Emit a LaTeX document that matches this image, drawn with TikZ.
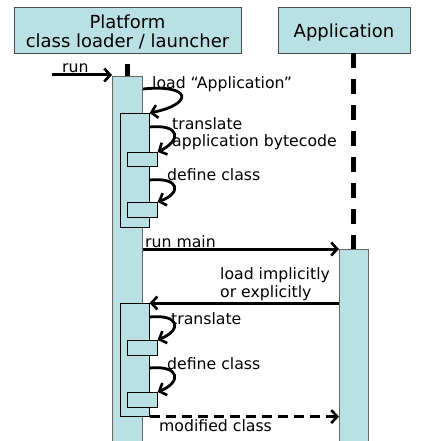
\documentclass[tikz,border=0pt]{standalone}
\usepackage{fontspec}
\setmainfont{DejaVu Sans}
\usetikzlibrary{arrows.meta}
\definecolor{act}{HTML}{B9E0E3}
\tikzset{
  head/.style={draw=black!70, fill=act, line width=0.8pt, inner sep=0},
  actbar/.style={draw=black!60, fill=act, line width=1pt},
  subbar/.style={draw=black, fill=act, line width=0.6pt},
  msg/.style={line width=3pt, -{Straight Barb[length=6pt,width=13pt,line width=2.6pt]}},
  selfmsg/.style={line width=2.8pt, -{Straight Barb[length=6pt,width=13pt,line width=2.6pt]}},
  lbl/.style={font=\fontsize{15.7}{18}\selectfont, anchor=base west, inner sep=0},
  ttl/.style={font=\fontsize{18}{21}\selectfont, anchor=base, inner sep=0},
  life/.style={line width=5pt, dash pattern=on 15pt off 11pt}
}
\begin{document}
\begin{tikzpicture}[x=1pt,y=-1pt]
\useasboundingbox (0,0) rectangle (423,441);
% headers
\path[head] (14,7) rectangle (241,53);
\path[head] (278,7) rectangle (410,53);
\node[ttl] (t1) at (127.5,29) {Platform};
\node[ttl] (t2) at (127.5,48) {class loader / launcher};
\node[ttl] (t3) at (344,38) {Application};
% lifelines
\coordinate (pl0) at (127,53);
\coordinate (pl1) at (127,78);
\draw[life, dash phase=15pt] (pl0) -- (pl1);
\coordinate (al0) at (353,53);
\coordinate (al1) at (353,249);
\draw[life] (al0) -- (al1);
% activation bars
\node[actbar, minimum width=30pt, minimum height=370pt, inner sep=0, anchor=north west] (pa) at (112,76) {};
\node[actbar, minimum width=29pt, minimum height=200pt, inner sep=0, anchor=north west] (aa) at (339,249) {};
\node[subbar, minimum width=29pt, minimum height=114pt, inner sep=0, anchor=north west] (n1) at (120,113) {};
\node[subbar, minimum width=30pt, minimum height=14pt, inner sep=0, anchor=north west] (s1) at (127,152) {};
\node[subbar, minimum width=30pt, minimum height=15pt, inner sep=0, anchor=north west] (s2) at (127,202) {};
\node[subbar, minimum width=29pt, minimum height=113pt, inner sep=0, anchor=north west] (n2) at (120,303) {};
\node[subbar, minimum width=30pt, minimum height=15pt, inner sep=0, anchor=north west] (s3) at (127,340) {};
\node[subbar, minimum width=30pt, minimum height=15pt, inner sep=0, anchor=north west] (s4) at (127,392) {};
% run
\coordinate (runstart) at (52,75);
\draw[msg] (runstart) -- (pa.north west |- runstart) ;
\node[lbl] (lrun) at (62,73) {run};
% self calls
\draw[selfmsg] (pa.east |- 0,89) .. controls (192,84) and (194,104) .. (n1.north east);
\node[lbl] (l1) at (152,89) {load “Application”};
\draw[selfmsg] (n1.east |- 0,127) .. controls (180,124) and (182,140) .. (s1.north east);
\node[lbl] (l2) at (172,129) {translate};
\node[lbl] (l3) at (172,146) {application bytecode};
\draw[selfmsg] (n1.east |- 0,180) .. controls (180,177) and (182,193) .. (s2.north east);
\node[lbl] (l4) at (167,180) {define class};
\draw[selfmsg] (n2.east |- 0,317) .. controls (180,314) and (182,330) .. (s3.north east);
\node[lbl] (l5) at (171,324) {translate};
\draw[selfmsg] (n2.east |- 0,368) .. controls (180,365) and (182,382) .. (s4.north east);
\node[lbl] (l6) at (167,369) {define class};
% messages
\draw[msg] (pa.east |- aa.north west) -- (aa.north west);
\node[lbl] (l7) at (145,247) {run main};
\draw[msg] (aa.west |- n2.north east) -- (n2.north east);
\node[lbl] (l8) at (220,279) {load implicitly};
\node[lbl] (l9) at (220,297) {or explicitly};
\draw[msg, dash pattern=on 10pt off 6pt] (n2.south east) -- (aa.west |- n2.south east);
\node[lbl] (l10) at (159,431) {modified class};
\end{tikzpicture}
\end{document}
